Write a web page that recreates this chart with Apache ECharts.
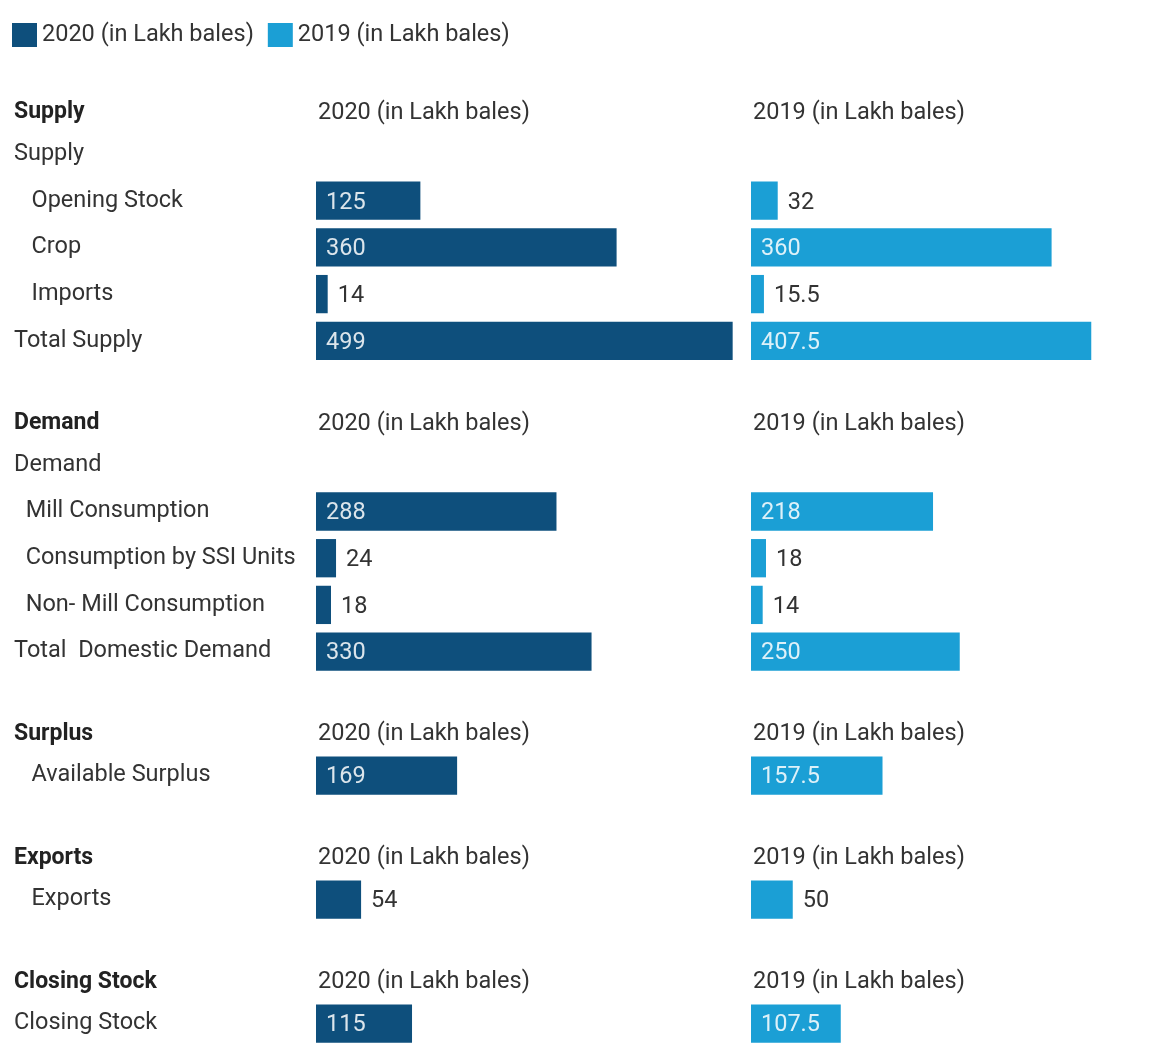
<!DOCTYPE html>
<html>
<head>
<meta charset="utf-8">
<script src="https://cdn.jsdelivr.net/npm/echarts@6/dist/echarts.min.js"></script>
<style>
html,body{margin:0;padding:0;background:#fff;}
#main{width:1169px;height:1054px;}
</style>
</head>
<body>
<div id="main"></div>
<script>
// ---- DATA ----
const seriesNames = ['2020 (in Lakh bales)', '2019 (in Lakh bales)'];
const sectionTitles = ['Supply', 'Demand', 'Surplus', 'Exports', 'Closing Stock'];

const supplyRows = ['Supply', '   Opening Stock', '   Crop', '   Imports', 'Total Supply'];
const supply2020 = [null, 125, 360, 14, 499];
const supply2019 = [null, 32, 360, 15.5, 407.5];

const demandRows = ['Demand', '  Mill Consumption', '  Consumption by SSI Units', '  Non- Mill Consumption', 'Total  Domestic Demand'];
const demand2020 = [null, 288, 24, 18, 330];
const demand2019 = [null, 218, 18, 14, 250];

const surplusRows = ['   Available Surplus'];
const surplus2020 = [169];
const surplus2019 = [157.5];

const exportsRows = ['   Exports'];
const exports2020 = [54];
const exports2019 = [50];

const closingRows = ['Closing Stock'];
const closing2020 = [115];
const closing2019 = [107.5];

const sections = [
  [supplyRows, supply2020, supply2019],
  [demandRows, demand2020, demand2019],
  [surplusRows, surplus2020, surplus2019],
  [exportsRows, exports2020, exports2019],
  [closingRows, closing2020, closing2019]
];

// ---- LAYOUT / STYLE ----
const colors = ['#0e4f7c', '#1b9fd5'];
const colLeft = [316, 751];
const axisMax = 500;
const colWidth = 417.5;
const rowH = 46.7;
const FONT = 'Roboto';
const FS = 23.5;
const textColor = '#333';

const chart = echarts.init(document.getElementById('main'), null, {renderer: 'canvas'});

const grids = [], xAxes = [], yAxes = [], series = [], graphics = [];
let headerY = 111;
sections.forEach((sec, si) => {
  const rows = sec[0];
  const firstRow = headerY + 43;
  const top = firstRow - rowH / 2;
  const height = rows.length * rowH;
  graphics.push({type: 'text', left: 14, top: headerY - 10,
    style: {text: sectionTitles[si], font: 'bold 23px ' + FONT, fill: '#222'}});
  [0, 1].forEach(c => {
    graphics.push({type: 'text', left: colLeft[c] + 2, top: headerY - 10,
      style: {text: seriesNames[c], font: FS + 'px ' + FONT, fill: textColor}});
    const gi = grids.length;
    grids.push({left: colLeft[c], top: top, width: colWidth, height: height, containLabel: false});
    xAxes.push({type: 'value', gridIndex: gi, min: 0, max: axisMax, show: false});
    yAxes.push({type: 'category', gridIndex: gi, data: rows, inverse: true,
      axisLine: {show: false}, axisTick: {show: false}, splitLine: {show: false},
      axisLabel: {show: c === 0, align: 'left', margin: colLeft[0] - 14,
        padding: [4, 0, 0, 0],
        fontFamily: FONT, fontSize: FS, color: textColor}});
    const vals = sec[c + 1];
    series.push({
      type: 'bar', name: seriesNames[c], xAxisIndex: gi, yAxisIndex: gi,
      barCategoryGap: '18%', itemStyle: {color: colors[c]}, animation: false,
      data: vals.map(v => {
        if (v === null) return null;
        const inside = v > 80;
        return {value: v, label: {show: true, position: inside ? 'insideLeft' : 'right',
          distance: 10, offset: [0, 2], color: inside ? 'rgba(255,255,255,0.85)' : textColor,
          fontFamily: FONT, fontSize: FS}};
      })
    });
  });
  headerY = firstRow + (rows.length - 1) * rowH + 81;
});

chart.setOption({
  backgroundColor: '#fff',
  animation: false,
  legend: {left: 7, top: 18, itemWidth: 25, itemHeight: 24, itemGap: 14,
    icon: 'rect', data: seriesNames,
    textStyle: {fontFamily: FONT, fontSize: FS, color: textColor}},
  grid: grids, xAxis: xAxes, yAxis: yAxes, series: series,
  graphic: graphics
});
</script>
</body>
</html>
